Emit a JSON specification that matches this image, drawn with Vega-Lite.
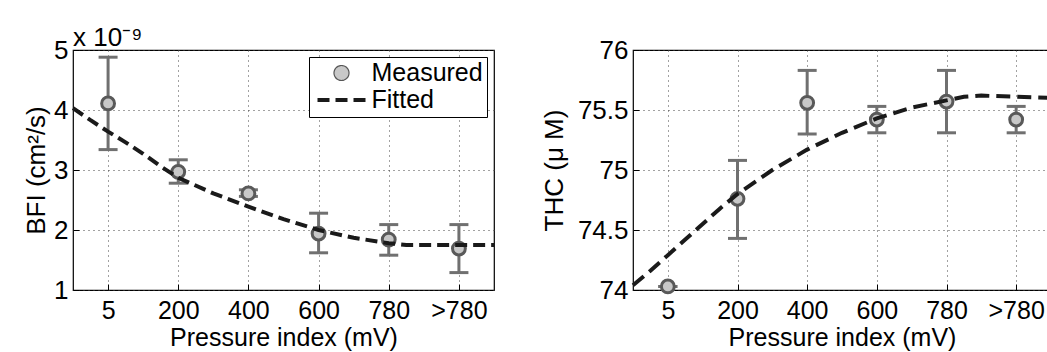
{
  "$schema": "https://vega.github.io/schema/vega-lite/v6.json",
  "autosize": "none",
  "padding": {"left": 73, "top": 50, "right": 974, "bottom": 62},
  "background": "white",
  "bounds": "flush",
  "spacing": 139,
  "resolve": {"legend": {"strokeDash": "independent"}, "scale": {"x": "independent", "y": "independent"}},
  "datasets": {
    "bfi": [
      {"x": 1, "y": 4.11, "lo": 3.34, "hi": 4.88},
      {"x": 2, "y": 2.97, "lo": 2.78, "hi": 3.17},
      {"x": 3, "y": 2.61, "lo": 2.56, "hi": 2.67},
      {"x": 4, "y": 1.94, "lo": 1.62, "hi": 2.28},
      {"x": 5, "y": 1.84, "lo": 1.58, "hi": 2.09},
      {"x": 6, "y": 1.69, "lo": 1.29, "hi": 2.09}
    ],
    "bfifit": [
      {"x": 0.5, "y": 4.03, "series": "Fitted"},
      {"x": 0.75, "y": 3.83, "series": "Fitted"},
      {"x": 1, "y": 3.64, "series": "Fitted"},
      {"x": 1.25, "y": 3.46, "series": "Fitted"},
      {"x": 1.5, "y": 3.27, "series": "Fitted"},
      {"x": 1.75, "y": 3.06, "series": "Fitted"},
      {"x": 2, "y": 2.87, "series": "Fitted"},
      {"x": 2.5, "y": 2.61, "series": "Fitted"},
      {"x": 3, "y": 2.39, "series": "Fitted"},
      {"x": 3.5, "y": 2.18, "series": "Fitted"},
      {"x": 4, "y": 2.0, "series": "Fitted"},
      {"x": 4.5, "y": 1.87, "series": "Fitted"},
      {"x": 5, "y": 1.78, "series": "Fitted"},
      {"x": 5.25, "y": 1.75, "series": "Fitted"},
      {"x": 5.5, "y": 1.75, "series": "Fitted"},
      {"x": 6, "y": 1.75, "series": "Fitted"},
      {"x": 6.5, "y": 1.75, "series": "Fitted"}
    ],
    "thc": [
      {"x": 1, "y": 74.03, "lo": 74.03, "hi": 74.03},
      {"x": 2, "y": 74.76, "lo": 74.43, "hi": 75.08},
      {"x": 3, "y": 75.56, "lo": 75.30, "hi": 75.83},
      {"x": 4, "y": 75.42, "lo": 75.31, "hi": 75.53},
      {"x": 5, "y": 75.57, "lo": 75.31, "hi": 75.83},
      {"x": 6, "y": 75.42, "lo": 75.31, "hi": 75.53}
    ],
    "thcfit": [
      {"x": 0.5, "y": 74.04},
      {"x": 0.75, "y": 74.16},
      {"x": 1, "y": 74.29},
      {"x": 1.25, "y": 74.42},
      {"x": 1.5, "y": 74.55},
      {"x": 1.75, "y": 74.68},
      {"x": 2, "y": 74.80},
      {"x": 2.5, "y": 75.0},
      {"x": 3, "y": 75.17},
      {"x": 3.5, "y": 75.31},
      {"x": 4, "y": 75.43},
      {"x": 4.5, "y": 75.52},
      {"x": 5, "y": 75.58},
      {"x": 5.25, "y": 75.61},
      {"x": 5.5, "y": 75.62},
      {"x": 6, "y": 75.61},
      {"x": 6.5, "y": 75.60}
    ]
  },
  "config": {
    "font": "Liberation Sans",
    "view": {"stroke": "#000", "strokeWidth": 1.2},
    "axis": {
      "domain": false,
      "grid": true,
      "gridColor": "#444",
      "gridDash": [1, 4],
      "gridWidth": 1,
      "ticks": true,
      "tickSize": -6,
      "tickColor": "#000",
      "tickWidth": 1,
      "labelFont": "Liberation Sans",
      "labelFontSize": 26,
      "labelColor": "#000",
      "titleFont": "Liberation Sans",
      "titleFontSize": 26,
      "titleFontWeight": "normal",
      "titleColor": "#000"
    },
    "axisX": {"labelPadding": 14, "labelFontSize": 25, "titlePadding": 2, "titleFontSize": 25},
    "axisY": {"labelPadding": 11}
  },
  "hconcat": [
    {
      "width": 421,
      "height": 240,
      "title": {"text": "x 10⁻⁹", "anchor": "start", "frame": "group", "offset": -35, "baseline": "alphabetic", "fontSize": 26, "fontWeight": "normal", "font": "Liberation Sans", "color": "#000"},
      "layer": [
        {
          "data": {"name": "bfi"},
          "mark": {"type": "rule", "color": "#707070", "strokeWidth": 3},
          "encoding": {
            "x": {"field": "x", "type": "quantitative", "scale": {"domain": [0.5, 6.5], "nice": false, "zero": false},
                  "axis": {"values": [1, 2, 3, 4, 5, 6], "labelExpr": "['5','200','400','600','780','>780'][datum.value-1]", "title": "Pressure index (mV)"}},
            "y": {"field": "lo", "type": "quantitative", "scale": {"domain": [1, 5], "nice": false, "zero": false},
                  "axis": {"values": [1, 2, 3, 4, 5], "format": "~g", "title": "BFI (cm²/s)", "titlePadding": 4}},
            "y2": {"field": "hi"}
          }
        },
        {
          "data": {"name": "bfi"},
          "mark": {"type": "tick", "orient": "horizontal", "color": "#707070", "size": 19, "thickness": 3, "opacity": 1},
          "encoding": {
            "x": {"field": "x", "type": "quantitative"},
            "y": {"field": "hi", "type": "quantitative"}
          }
        },
        {
          "data": {"name": "bfi"},
          "mark": {"type": "tick", "orient": "horizontal", "color": "#707070", "size": 19, "thickness": 3, "opacity": 1},
          "encoding": {
            "x": {"field": "x", "type": "quantitative"},
            "y": {"field": "lo", "type": "quantitative"}
          }
        },
        {
          "data": {"name": "bfi"},
          "mark": {"type": "point", "shape": "circle", "filled": false, "fill": "#c8c8c8", "stroke": "#595959", "strokeWidth": 3, "size": 165, "opacity": 1, "fillOpacity": 1},
          "encoding": {
            "x": {"field": "x", "type": "quantitative"},
            "y": {"field": "y", "type": "quantitative"}
          }
        },
        {
          "data": {"name": "bfifit"},
          "mark": {"type": "line", "color": "#1a1a1a", "strokeWidth": 4},
          "encoding": {
            "x": {"field": "x", "type": "quantitative"},
            "y": {"field": "y", "type": "quantitative"},
            "strokeDash": {
              "field": "series", "type": "nominal",
              "scale": {"domain": ["Measured", "Fitted"], "range": [[1, 0], [12, 6]]},
              "legend": {
                "title": null,
                "orient": "top-right",
                "offset": 7,
                "padding": 3.5,
                "strokeColor": "#000",
                "fillColor": "#fff",
                "labelFont": "Liberation Sans",
                "labelFontSize": 25,
                "labelColor": "#000",
                "labelOffset": 34,
                "symbolSize": 900,
                "rowPadding": 1,
                "symbolType": {"expr": "datum.label === 'Measured' ? 'M1.6,0A0.5,0.5,0,1,1,0.6,0A0.5,0.5,0,1,1,1.6,0Z' : 'M-0.5,0H2.7'"},
                "symbolFillColor": {"expr": "datum.label === 'Measured' ? '#c8c8c8' : 'transparent'"},
                "symbolStrokeColor": {"expr": "datum.label === 'Measured' ? '#555555' : '#1a1a1a'"},
                "symbolStrokeWidth": {"expr": "datum.label === 'Measured' ? 1.2 : 4"}
              }
            }
          }
        }
      ]
    },
    {
      "width": 418,
      "height": 240,
      "layer": [
        {
          "data": {"name": "thc"},
          "mark": {"type": "rule", "color": "#707070", "strokeWidth": 3},
          "encoding": {
            "x": {"field": "x", "type": "quantitative", "scale": {"domain": [0.5, 6.5], "nice": false, "zero": false},
                  "axis": {"values": [1, 2, 3, 4, 5, 6], "labelExpr": "['5','200','400','600','780','>780'][datum.value-1]", "title": "Pressure index (mV)"}},
            "y": {"field": "lo", "type": "quantitative", "scale": {"domain": [74, 76], "nice": false, "zero": false},
                  "axis": {"values": [74, 74.5, 75, 75.5, 76], "format": "~g", "title": "THC (μ M)", "titlePadding": 10}},
            "y2": {"field": "hi"}
          }
        },
        {
          "data": {"name": "thc"},
          "mark": {"type": "tick", "orient": "horizontal", "color": "#707070", "size": 19, "thickness": 3, "opacity": 1},
          "encoding": {
            "x": {"field": "x", "type": "quantitative"},
            "y": {"field": "hi", "type": "quantitative"}
          }
        },
        {
          "data": {"name": "thc"},
          "mark": {"type": "tick", "orient": "horizontal", "color": "#707070", "size": 19, "thickness": 3, "opacity": 1},
          "encoding": {
            "x": {"field": "x", "type": "quantitative"},
            "y": {"field": "lo", "type": "quantitative"}
          }
        },
        {
          "data": {"name": "thc"},
          "mark": {"type": "point", "shape": "circle", "filled": false, "fill": "#c8c8c8", "stroke": "#595959", "strokeWidth": 3, "size": 165, "opacity": 1, "fillOpacity": 1},
          "encoding": {
            "x": {"field": "x", "type": "quantitative"},
            "y": {"field": "y", "type": "quantitative"}
          }
        },
        {
          "data": {"name": "thcfit"},
          "mark": {"type": "line", "color": "#1a1a1a", "strokeWidth": 4, "strokeDash": [14, 7]},
          "encoding": {
            "x": {"field": "x", "type": "quantitative"},
            "y": {"field": "y", "type": "quantitative"}
          }
        }
      ]
    }
  ]
}
